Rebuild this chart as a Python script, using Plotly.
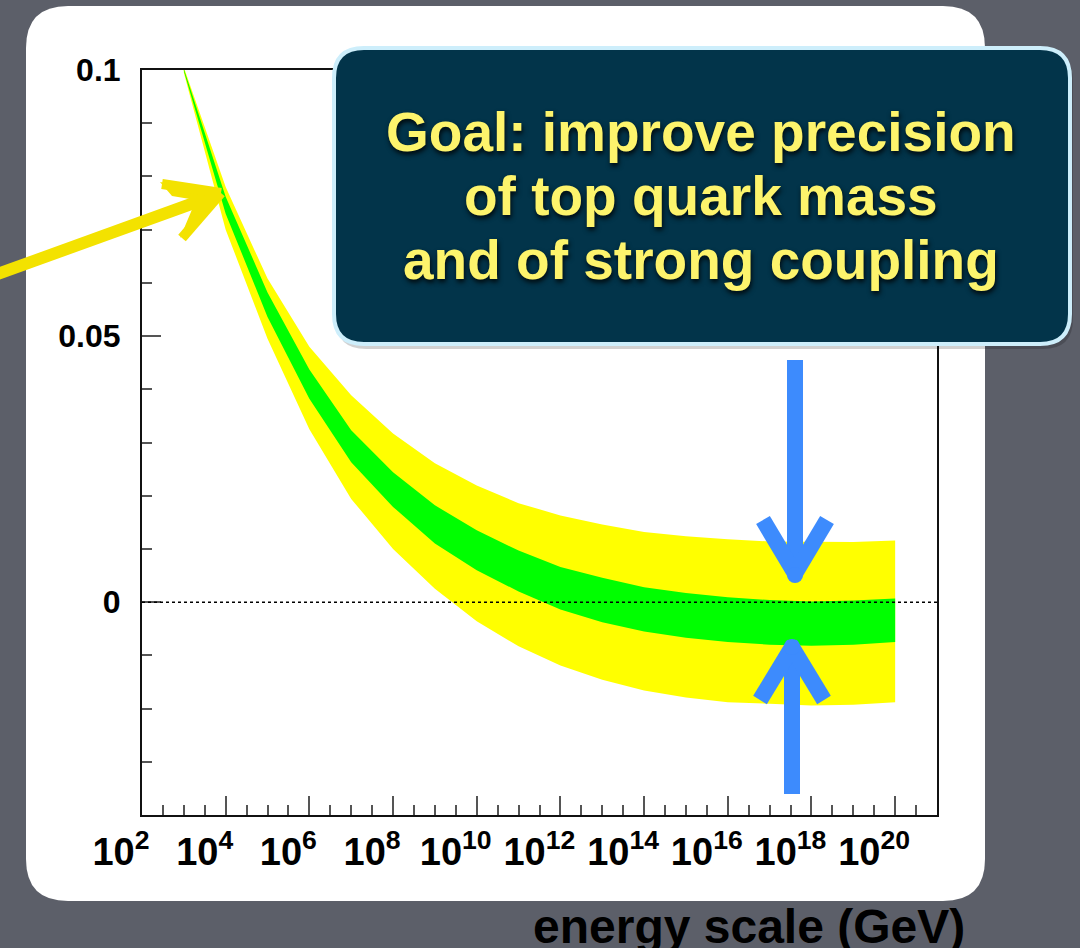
import plotly.graph_objects as go

# ---------------- data ----------------
log_energy = [3, 4, 5, 6, 7, 8, 9, 10, 11, 12, 13, 14, 15, 16, 17, 18, 19, 20]
yellow_upper = [0.1005, 0.0780, 0.0608, 0.0480, 0.0389, 0.0317, 0.0261, 0.0219, 0.0186,
                0.0163, 0.0146, 0.0132, 0.0124, 0.0118, 0.0114, 0.0113, 0.0113, 0.0116]
green_upper = [0.1002, 0.0762, 0.0582, 0.0437, 0.0323, 0.0244, 0.0182, 0.0135, 0.0097,
               0.0066, 0.0046, 0.0028, 0.0017, 0.0009, 0.0004, 0.0001, 0.0003, 0.0007]
green_lower = [0.0998, 0.0730, 0.0536, 0.0382, 0.0263, 0.0179, 0.0110, 0.0060, 0.0020,
               -0.0014, -0.0038, -0.0055, -0.0067, -0.0075, -0.0080, -0.0082, -0.0080, -0.0075]
yellow_lower = [0.0995, 0.0700, 0.0495, 0.0325, 0.0194, 0.0100, 0.0025, -0.0036, -0.0083,
                -0.0119, -0.0146, -0.0166, -0.0179, -0.0188, -0.0191, -0.0194, -0.0193, -0.0188]

x_tick_exponents = [2, 4, 6, 8, 10, 12, 14, 16, 18, 20]
x_tick_labels = ["10<sup>%d</sup>" % e for e in x_tick_exponents]
y_tick_values = [0, 0.05, 0.1]
y_tick_labels = ["0", "0.05", "0.1"]
callout_lines = ["Goal: improve precision", "of top quark mass", "and of strong coupling"]
x_title = "energy scale (GeV)"

# ---------------- geometry helpers ----------------
W, H = 1080, 948
ML, MR, MT, MB = 142, 143, 70, 133
PW, PH = W - ML - MR, H - MT - MB
BG = "#5c5f69"


def px(x):
    return (x - ML) / PW


def py(y):
    return (H - MB - y) / PH


def rrect(x0, y0, x1, y1, r):
    pts = [
        ("M", x0 + r, y0), ("L", x1 - r, y0), ("Q", x1, y0, x1, y0 + r),
        ("L", x1, y1 - r), ("Q", x1, y1, x1 - r, y1), ("L", x0 + r, y1),
        ("Q", x0, y1, x0, y1 - r), ("L", x0, y0 + r), ("Q", x0, y0, x0 + r, y0),
    ]
    s = ""
    for p in pts:
        if p[0] == "Q":
            s += "Q%.5f,%.5f %.5f,%.5f " % (px(p[1]), py(p[2]), px(p[3]), py(p[4]))
        else:
            s += "%s%.5f,%.5f " % (p[0], px(p[1]), py(p[2]))
    return s + "Z"


def seg(x0, y0, x1, y1, color, width, layer="above"):
    return dict(type="line", xref="paper", yref="paper", x0=px(x0), y0=py(y0),
                x1=px(x1), y1=py(y1), line=dict(color=color, width=width), layer=layer)


def poly(points, color):
    s = "M" + " L".join("%.5f,%.5f" % (px(a), py(b)) for a, b in points) + " Z"
    return dict(type="path", xref="paper", yref="paper", path=s, fillcolor=color,
                line=dict(width=0), layer="above")


fig = go.Figure()

fig.add_trace(go.Scatter(x=log_energy, y=yellow_upper, mode="lines", line=dict(width=0),
                         showlegend=False, hoverinfo="skip"))
fig.add_trace(go.Scatter(x=log_energy, y=yellow_lower, mode="lines", line=dict(width=0),
                         fill="tonexty", fillcolor="#ffff00", showlegend=False, hoverinfo="skip"))
fig.add_trace(go.Scatter(x=log_energy, y=green_upper, mode="lines", line=dict(width=0),
                         showlegend=False, hoverinfo="skip"))
fig.add_trace(go.Scatter(x=log_energy, y=green_lower, mode="lines", line=dict(width=0),
                         fill="tonexty", fillcolor="#00ff00", showlegend=False, hoverinfo="skip"))

BLUE = "#3d8bfd"
YEL = "#f3e200"
shapes = []
# white card
shapes.append(dict(type="path", xref="paper", yref="paper", path=rrect(26, 6, 985, 901, 42),
                   fillcolor="white", line=dict(width=0), layer="below"))
# zero dashed line
shapes.append(dict(type="line", xref="paper", yref="y", x0=0, x1=1, y0=0, y1=0,
                   line=dict(color="black", width=1.5, dash="dot"), layer="above"))
# hand-drawn yellow arrow
shapes.append(seg(-5, 275, 205, 199, YEL, 12))
shapes.append(poly([(221, 193), (160, 182), (172, 196), (196, 200), (180, 238)], YEL))
shapes.append(seg(221, 193, 162, 184, YEL, 10))
shapes.append(seg(221, 193, 182, 238, YEL, 10))
# callout shadow + box
shapes.append(dict(type="path", xref="paper", yref="paper", path=rrect(336, 51, 1073, 349, 30),
                   fillcolor="rgba(0,0,0,0.18)", line=dict(width=0), layer="above"))
shapes.append(dict(type="path", xref="paper", yref="paper", path=rrect(334, 48, 1070, 344, 30),
                   fillcolor="#02344a", line=dict(color="#cdeefb", width=4), layer="above"))
# blue arrows (down and up)
shapes.append(seg(795, 360, 795, 570, BLUE, 16))
shapes.append(seg(763, 520, 797, 577, BLUE, 16))
shapes.append(seg(827, 520, 793, 577, BLUE, 16))
shapes.append(dict(type="circle", xref="paper", yref="paper", x0=px(787), x1=px(803),
                   y0=py(567), y1=py(583), fillcolor=BLUE, line=dict(width=0), layer="above"))
shapes.append(seg(792, 794, 792, 655, BLUE, 16))
shapes.append(seg(760, 700, 794, 644, BLUE, 16))
shapes.append(seg(824, 700, 790, 644, BLUE, 16))
shapes.append(dict(type="circle", xref="paper", yref="paper", x0=px(784), x1=px(800),
                   y0=py(639), y1=py(655), fillcolor=BLUE, line=dict(width=0), layer="above"))

annotations = []
for i, line in enumerate(callout_lines):
    annotations.append(dict(
        text=line, xref="paper", yref="paper", x=px(701), y=py(132 + 64 * i),
        xanchor="center", yanchor="middle", showarrow=False,
        font=dict(family="Liberation Sans, Arial, sans-serif", size=55, color="#fdf46c",
                  weight="bold", shadow="1px 3px 5px rgba(0,0,0,0.85)")))
annotations.append(dict(
    text=x_title, xref="paper", yref="paper", x=px(967), y=py(898),
    xanchor="right", yanchor="top", showarrow=False,
    font=dict(family="Liberation Sans, Arial, sans-serif", size=48, color="black", weight="bold")))

fig.update_layout(
    width=W, height=H,
    margin=dict(l=ML, r=MR, t=MT, b=MB, pad=0),
    paper_bgcolor=BG,
    plot_bgcolor="rgba(0,0,0,0)",
    showlegend=False,
    shapes=shapes,
    annotations=annotations,
)
fig.update_xaxes(
    range=[2, 21], showgrid=False, zeroline=False,
    showline=True, linecolor="#111111", linewidth=2, mirror=True,
    tickmode="array", tickvals=x_tick_exponents, ticktext=x_tick_labels,
    ticks="inside", ticklen=19, tickwidth=1.5, tickcolor="#555555",
    minor=dict(tickmode="linear", tick0=2, dtick=0.5, ticks="inside", ticklen=10,
               tickwidth=1.5, tickcolor="#555555"),
    tickfont=dict(family="Liberation Sans, Arial, sans-serif", size=38, color="black", weight="bold"),
    ticklabelshift=-21, ticklabelstandoff=2,
)
fig.update_yaxes(
    range=[-0.04, 0.1], showgrid=False, zeroline=False,
    showline=True, linecolor="#111111", linewidth=2, mirror=True,
    tickmode="array", tickvals=y_tick_values, ticktext=y_tick_labels,
    ticks="inside", ticklen=19, tickwidth=1.5, tickcolor="#555555",
    minor=dict(tickmode="linear", tick0=0, dtick=0.01, ticks="inside", ticklen=10,
               tickwidth=1.5, tickcolor="#555555"),
    tickfont=dict(family="Liberation Sans, Arial, sans-serif", size=32, color="black", weight="bold"),
    ticklabelstandoff=13,
)

fig.write_html(
    "out.html", config=dict(displayModeBar=False),
    post_script="document.body.style.margin='0';document.body.style.background='%s';" % BG,
)
